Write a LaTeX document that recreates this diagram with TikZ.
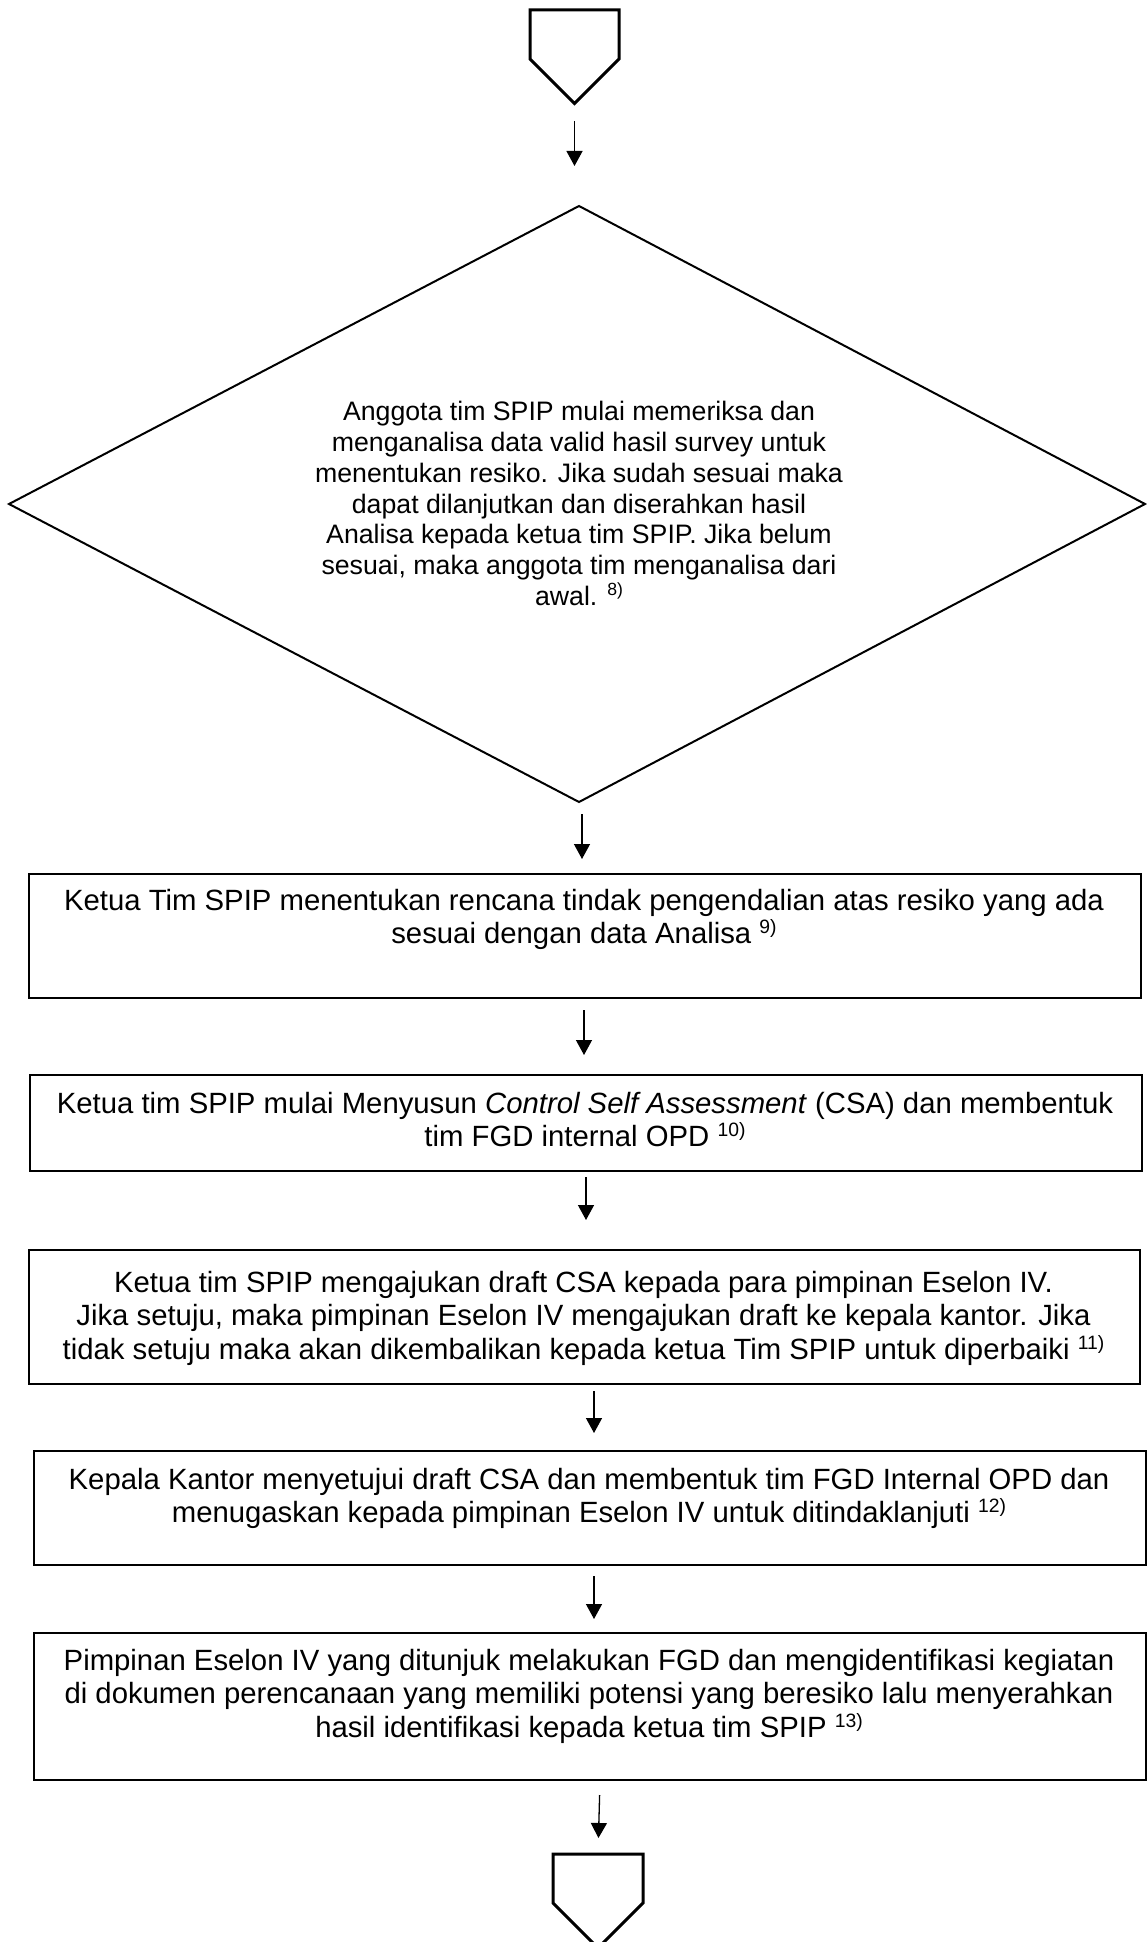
\documentclass[tikz,border=0pt]{standalone}
\usepackage{fontspec}
\setmainfont{Liberation Sans}
\usetikzlibrary{arrows.meta}

% reference number, raised and smaller
\newcommand\fnref[1]{\raisebox{0.36em}{\scalebox{0.66}{#1}}}

\tikzset{
  stepbox/.style={draw, line width=2pt, inner sep=0pt, anchor=north west},
  boxtxt/.style={align=center, inner sep=0pt, anchor=north,
              font=\fontsize{29.3pt}{33.7pt}\selectfont},
  dectxt/.style={align=center, inner sep=0pt, anchor=north,
              font=\fontsize{26.7pt}{30.75pt}\selectfont},
  decline/.style={draw, line width=2pt, line join=miter},
  arr/.style={line width=1.3pt, -{Triangle[width=16pt,length=15pt]}},
  pent/.style={draw, line width=3pt, line join=miter},
}

\begin{document}
\begin{tikzpicture}[x=1pt,y=-1pt]
  \useasboundingbox[fill=white] (0,0) rectangle (1147,1942);

  % off-page connector at the top
  \draw[pent] (530,10) -- (619,10) -- (619,59) -- (574.5,103.5) -- (530,59) -- cycle;
  \coordinate (topapex) at (574.5,103.5);

  % decision
  \draw[decline] (579,206) coordinate (dec-n) -- (1145,504) coordinate (dec-e)
    -- (579,802) coordinate (dec-s) -- (9,504) coordinate (dec-w) -- cycle;
  \node[dectxt] (dec) at (579,401.4) {Anggota tim SPIP mulai memeriksa dan\\
    menganalisa data valid hasil survey untuk\\
    menentukan resiko. Jika sudah sesuai maka\\
    dapat dilanjutkan dan diserahkan hasil\\
    Analisa kepada ketua tim SPIP. Jika belum\\
    sesuai, maka anggota tim menganalisa dari\\
    awal. \fnref{8)}};

  % process boxes
  \node[stepbox, minimum width=1112pt, minimum height=124pt] (b1) at (28,873) {};
  \node[stepbox, minimum width=1112pt, minimum height=96pt]  (b2) at (29,1074) {};
  \node[stepbox, minimum width=1111pt, minimum height=134pt] (b3) at (28,1249) {};
  \node[stepbox, minimum width=1112pt, minimum height=114pt] (b4) at (33,1450) {};
  \node[stepbox, minimum width=1112pt, minimum height=147pt] (b5) at (33,1632) {};

  \node[boxtxt] (t1) at (584,888.8) {Ketua Tim SPIP menentukan rencana tindak pengendalian atas resiko yang ada\\
    sesuai dengan data Analisa \fnref{9)}};
  \node[boxtxt] (t2) at (585,1091.8) {Ketua tim SPIP mulai Menyusun \textit{Control Self Assessment} (CSA) dan membentuk\\
    tim FGD internal OPD \fnref{10)}};
  \node[boxtxt] (t3) at (583.5,1270.8) {Ketua tim SPIP mengajukan draft CSA kepada para pimpinan Eselon IV.\\
    Jika setuju, maka pimpinan Eselon IV mengajukan draft ke kepala kantor. Jika\\
    tidak setuju maka akan dikembalikan kepada ketua Tim SPIP untuk diperbaiki \fnref{11)}};
  \node[boxtxt] (t4) at (589,1467.8) {Kepala Kantor menyetujui draft CSA dan membentuk tim FGD Internal OPD dan\\
    menugaskan kepada pimpinan Eselon IV untuk ditindaklanjuti \fnref{12)}};
  \node[boxtxt] (t5) at (589,1648.8) {Pimpinan Eselon IV yang ditunjuk melakukan FGD dan mengidentifikasi kegiatan\\
    di dokumen perencanaan yang memiliki potensi yang beresiko lalu menyerahkan\\
    hasil identifikasi kepada ketua tim SPIP \fnref{13)}};

  % off-page connector at the bottom
  \draw[pent] (553,1854) -- (643,1854) -- (643,1903) -- (598,1948) -- (553,1903) -- cycle;
  \coordinate (endtop) at (598,1854);

  % flow arrows
  \draw[arr, shorten <=17.5pt, shorten >=40pt] (topapex) -- (topapex |- dec-n);
  \draw[arr, shorten <=12pt, shorten >=14pt] ([xshift=3pt]dec-s) -- ([xshift=3pt]dec-s |- b1.north);
  \draw[arr, shorten <=11pt, shorten >=19pt] ([xshift=-1pt]b1.south) -- ([xshift=-1pt]b1.south |- b2.north);
  \draw[arr, shorten <=5pt, shorten >=29pt] ([xshift=0pt]b2.south) -- ([xshift=0pt]b2.south |- b3.north);
  \draw[arr, shorten <=6pt, shorten >=17pt] ([xshift=9.5pt]b3.south) -- ([xshift=9.5pt]b3.south |- b4.north);
  \draw[arr, shorten <=10pt, shorten >=13pt] ([xshift=4pt]b4.south) -- ([xshift=4pt]b4.south |- b5.north);
  \draw[arr, shorten <=14pt, shorten >=16pt] ([xshift=10pt]b5.south) -- (endtop);
\end{tikzpicture}
\end{document}
